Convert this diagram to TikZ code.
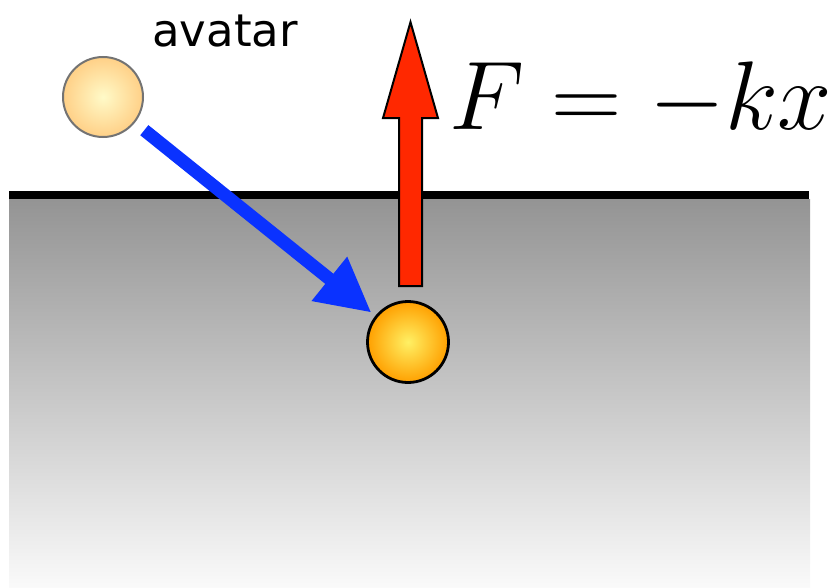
\RequirePackage{fix-cm}
\documentclass[tikz,border=0pt]{standalone}
\usepackage{fontspec}
\newfontfamily\labelfont{DejaVu Sans}
\usetikzlibrary{arrows.meta}
\definecolor{paleIn}{RGB}{255,250,200}
\definecolor{paleOut}{RGB}{255,208,135}
\definecolor{ballIn}{RGB}{255,240,100}
\definecolor{ballOut}{RGB}{255,160,0}
\definecolor{forceRed}{RGB}{255,40,0}
\definecolor{moveBlue}{RGB}{10,50,255}

\begin{document}
\begin{tikzpicture}[x=1pt,y=-1pt,
  ball/.style={circle,inner sep=0pt,minimum size=80pt,shade},
  movearrow/.style={draw=moveBlue,line width=13pt,
    -{Triangle[length=54pt,width=53pt]}},
  forcearrow/.style={fill=forceRed,draw=black,line width=2pt,line join=miter}]
  \useasboundingbox (0,0) rectangle (837,588);
  % ground
  \shade[top color=black!42,bottom color=black!2] (9,199) rectangle (810,588);
  \draw[line width=8pt] (9,195) -- (809,195);
  % balls
  \node[ball,draw=black!55,line width=2pt,inner color=paleIn,outer color=paleOut] (avatar) at (103,97) {};
  \node[ball,minimum size=81pt,draw=black,line width=2.8pt,inner color=ballIn,outer color=ballOut] (body) at (408,342) {};
  \node[font=\labelfont\fontsize{45}{45}\selectfont,anchor=base] (name) at (225,47) {avatar};
  % arrows
  \draw[movearrow,shorten <=12pt,shorten >=5pt] (avatar) -- (body);
  \draw[forcearrow] ([xshift=2.5pt,yshift=14pt]body.north) coordinate (rbase)
    -- ++(-11.5,0) -- ++(0,-168) -- ++(-16,0) -- ++(27.5,-96)
    -- ++(27.5,96) -- ++(-16,0) -- ++(0,168) -- cycle;
  \node[font=\fontsize{97.5}{97.5}\selectfont,anchor=base] (law) at (641,130) {$F=-kx$};
\end{tikzpicture}
\end{document}
